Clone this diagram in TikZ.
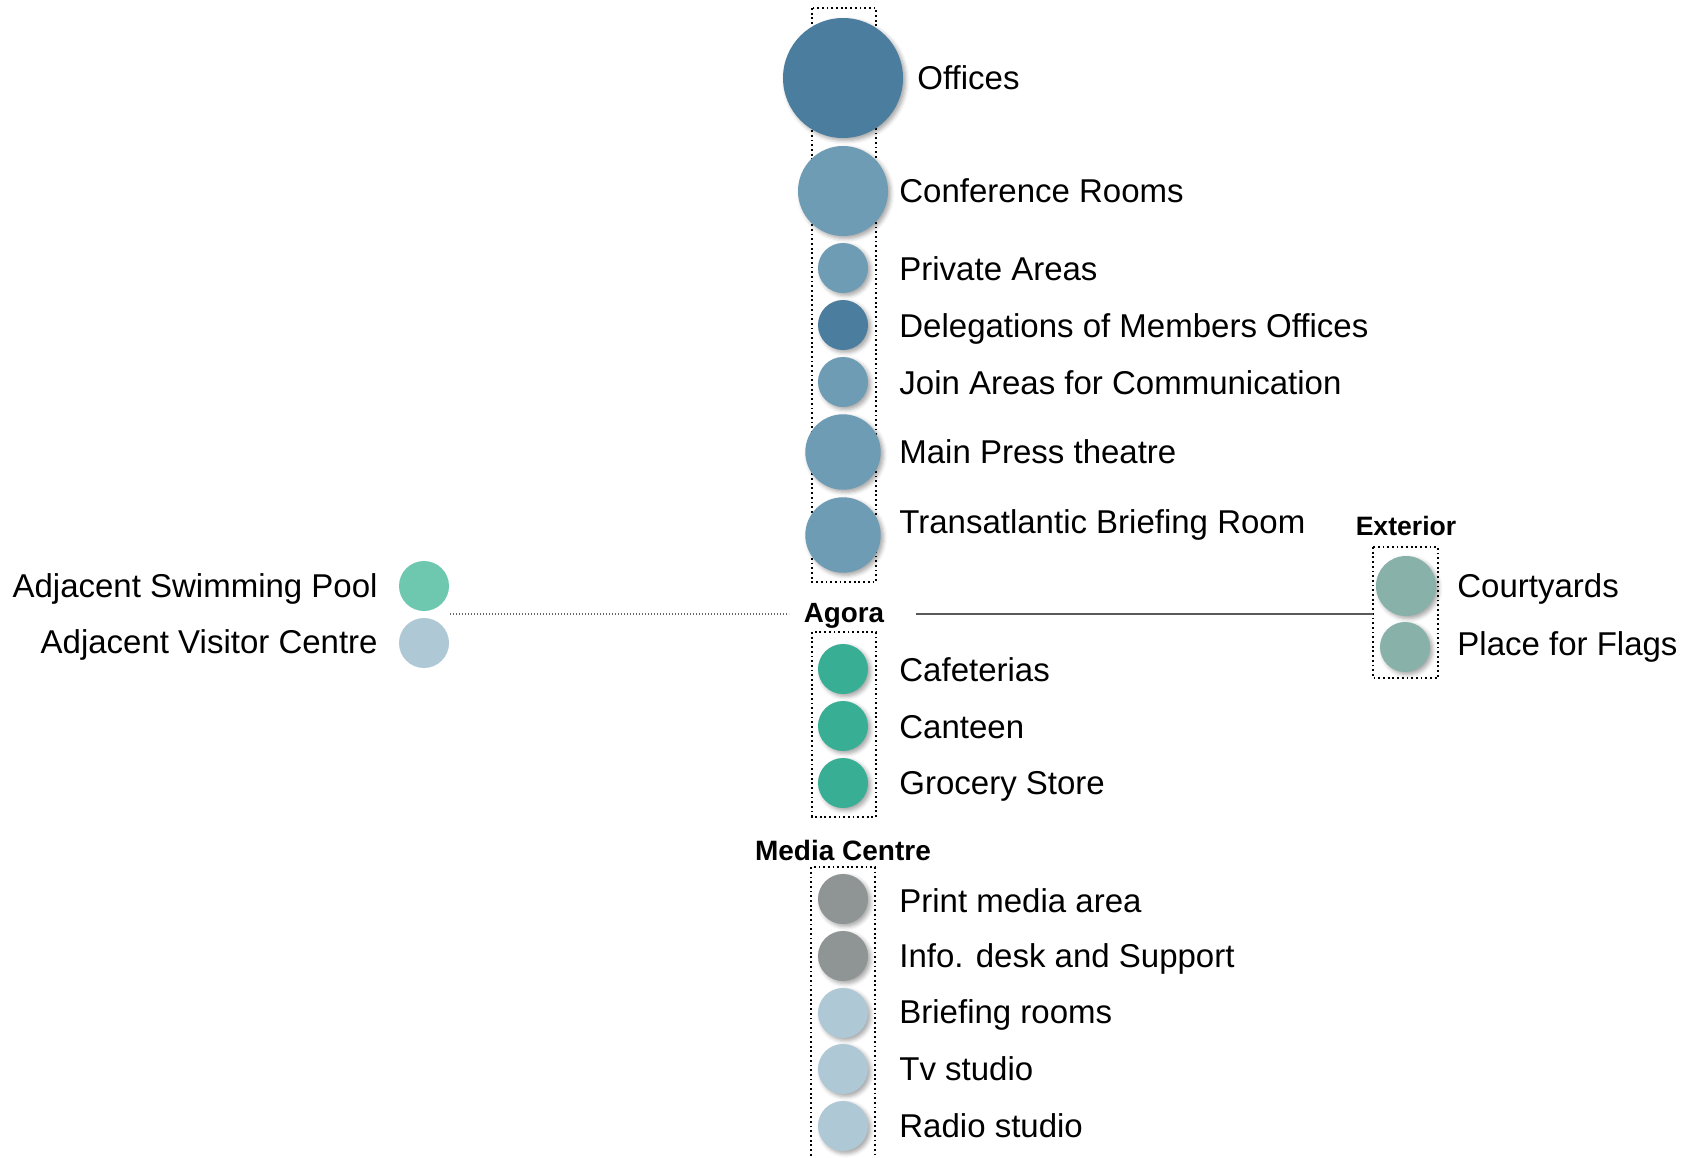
\documentclass[tikz,border=0pt]{standalone}
\usepackage{fontspec}
\setmainfont{Liberation Sans}
\usetikzlibrary{shadows.blur}
\definecolor{cdark}{HTML}{4B7D9F}
\definecolor{cmid}{HTML}{6E9CB4}
\definecolor{cgreen}{HTML}{38AF94}
\definecolor{cmint}{HTML}{6EC7AF}
\definecolor{clight}{HTML}{AEC8D5}
\definecolor{cgrey}{HTML}{8F9494}
\definecolor{csage}{HTML}{88B1AA}
\tikzset{
  ball/.style={circle, fill=#1, draw=none, inner sep=0pt,
    blur shadow={shadow xshift=1.3pt, shadow yshift=-1.3pt, shadow blur radius=2pt, shadow opacity=35}},
  flatball/.style={circle, fill=#1, draw=none, inner sep=0pt},
  lbl/.style={anchor=base west, inner sep=0pt, font=\fontsize{16.5}{18}\selectfont},
  lblr/.style={anchor=base east, inner sep=0pt, font=\fontsize{16.5}{18}\selectfont},
  head/.style={anchor=base, inner sep=0pt, font=\fontsize{13.3}{15}\selectfont\bfseries},
  dotbox/.style={draw=black, line width=1pt, dash pattern=on 0.9pt off 1.45pt},
  fineline/.style={draw=black!60, line width=0.55pt, dash pattern=on 0.6pt off 0.9pt},
  solidline/.style={draw=black!65, line width=0.6pt}
}
\begin{document}
\begin{tikzpicture}[x=0.5pt,y=-0.5pt]
\useasboundingbox (0,0) rectangle (1686,1157);
% group boxes
\draw[dotbox] (812,8) rectangle (876,582);
\draw[dotbox] (812,632) rectangle (876,817);
\draw[dotbox] (1373,547) rectangle (1438,678);
\draw[dotbox] (811,1165) -- (811,867) -- (875,867) -- (875,1165);
% top group
\node[ball=cdark, minimum size=60pt] (off) at (843,78) {};
\node[ball=cmid, minimum size=45pt] (conf) at (843,191) {};
\node[ball=cmid, minimum size=25pt] (priv) at (843,268) {};
\node[ball=cdark, minimum size=25pt] (deleg) at (843,325) {};
\node[ball=cmid, minimum size=25pt] (join) at (843,382) {};
\node[ball=cmid, minimum size=37.7pt] (press) at (843,452) {};
\node[ball=cmid, minimum size=37.7pt] (trans) at (843,535) {};
\node[lbl] (toff) at (917,89) {Offices};
\node[lbl] (tconf) at (899,202) {Conference Rooms};
\node[lbl] (tpriv) at (899,280) {Private Areas};
\node[lbl] (tdeleg) at (899,337) {Delegations of Members Offices};
\node[lbl] (tjoin) at (899,394) {Join Areas for Communication};
\node[lbl] (tpress) at (899,463) {Main Press theatre};
\node[lbl] (ttrans) at (899,533) {Transatlantic Briefing Room};
% agora
\node[head, font=\fontsize{13.9}{15}\selectfont\bfseries] (agora) at (844,622) {Agora};
\node[ball=cgreen, minimum size=25pt] (caf) at (843,669) {};
\node[ball=cgreen, minimum size=25pt] (cant) at (843,726) {};
\node[ball=cgreen, minimum size=25pt] (groc) at (843,783) {};
\node[lbl] (tcaf) at (899,681) {Cafeterias};
\node[lbl] (tcant) at (899,738) {Canteen};
\node[lbl] (tgroc) at (899,794) {Grocery Store};
% media centre
\node[head, font=\fontsize{14}{15}\selectfont\bfseries] (media) at (843,860) {Media Centre};
\node[ball=cgrey, minimum size=25pt] (print) at (843,899) {};
\node[ball=cgrey, minimum size=25pt] (info) at (843,956) {};
\node[ball=clight, minimum size=25pt] (brief) at (843,1013) {};
\node[ball=clight, minimum size=25pt] (tv) at (843,1069) {};
\node[ball=clight, minimum size=25pt] (radio) at (843,1126) {};
\node[lbl] (tprint) at (899,912) {Print media area};
\node[lbl] (tinfo) at (899,967) {Info. desk and Support};
\node[lbl] (tbrief) at (899,1023) {Briefing rooms};
\node[lbl] (ttv) at (899,1080) {Tv studio};
\node[lbl] (tradio) at (899,1137) {Radio studio};
% exterior
\node[head] (ext) at (1406,535) {Exterior};
\node[ball=csage, minimum size=30pt] (court) at (1406,586) {};
\node[ball=csage, minimum size=25pt] (flags) at (1405,647) {};
\node[lbl] (tcourt) at (1457,597) {Courtyards};
\node[lbl] (tflags) at (1457,655) {Place for Flags};
% adjacent
\node[flatball=cmint, minimum size=25pt] (pool) at (424,586) {};
\node[flatball=clight, minimum size=25pt] (visit) at (424,643) {};
\node[lblr] (tpool) at (378,597) {Adjacent Swimming Pool};
\node[lblr] (tvisit) at (378,653) {Adjacent Visitor Centre};
% connectors
\coordinate (lstart) at (450,614);
\coordinate (lend) at (789,614);
\coordinate (rstart) at (916,614);
\coordinate (extW) at (1373,614);
\draw[fineline] (lstart) -- (lend);
\draw[solidline] (rstart) -- (extW);
\end{tikzpicture}
\end{document}
